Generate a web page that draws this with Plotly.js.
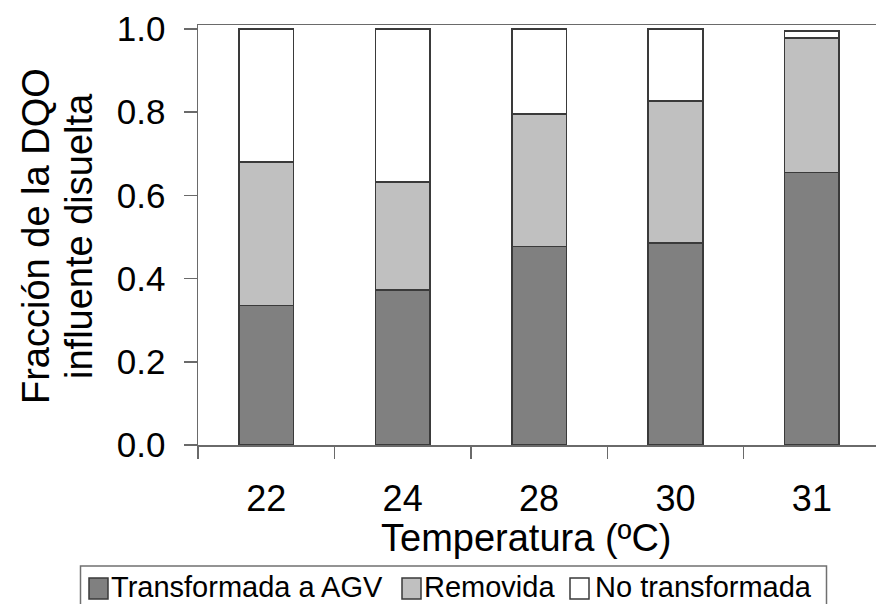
<!DOCTYPE html>
<html>
<head>
<meta charset="utf-8">
<script src="https://cdn.plot.ly/plotly-3.0.1.min.js"></script>
<style>html,body{margin:0;padding:0;background:#fff;}#chart{width:876px;height:604px;}</style>
</head>
<body>
<div id="chart"></div>
<script>
var categories = ["22", "24", "28", "30", "31"];
var transformadaAGV = [0.335, 0.373, 0.477, 0.486, 0.655];
var removida = [0.345, 0.259, 0.319, 0.341, 0.323];
var noTransformada = [0.320, 0.368, 0.204, 0.173, 0.017];
var yTickVals = [0, 0.2, 0.4, 0.6, 0.8, 1.0];
var yTickText = ["0.0", "0.2", "0.4", "0.6", "0.8", "1.0"];
var seriesNames = ["Transformada a AGV", "Removida", "No transformada"];
var seriesColors = ["#808080", "#c0c0c0", "#ffffff"];

var FONT = "Liberation Sans, Arial, Helvetica, sans-serif";
var EDGE = "#3a3a3a";
var edge = {color: EDGE, width: 1.5};

var seriesValues = [transformadaAGV, removida, noTransformada];
var traces = seriesValues.map(function (vals, i) {
  return {type: "bar", name: seriesNames[i], x: categories, y: vals,
          marker: {color: seriesColors[i], line: edge}, width: 0.4};
});

// plot area in pixels: left 198, right 876, top 25, bottom 445
function px(x) { return (x - 198) / 678; }
function py(y) { return (445 - y) / 420; }

// hand-placed legend (box, swatches, labels) to match the reference layout
var legSwatchX = [89, 402, 570];
var legTextX = [110, 423, 594];
var shapes = [
  {type: "rect", xref: "paper", yref: "paper", x0: px(80.5), x1: px(826.5), y0: py(640), y1: py(566),
   line: {color: "#707070", width: 1.5}, fillcolor: "rgba(0,0,0,0)", layer: "above"}
];
var annotations = [
  {text: "Fracción de la DQO", xref: "paper", yref: "paper", x: px(36), y: py(236),
   xanchor: "center", yanchor: "middle", textangle: -90, showarrow: false,
   font: {family: FONT, size: 38, color: "#000"}},
  {text: "influente disuelta", xref: "paper", yref: "paper", x: px(79), y: py(236),
   xanchor: "center", yanchor: "middle", textangle: -90, showarrow: false,
   font: {family: FONT, size: 38, color: "#000"}},
  {text: "Temperatura (ºC)", xref: "paper", yref: "paper", x: px(526), y: py(538),
   xanchor: "center", yanchor: "middle", showarrow: false,
   font: {family: FONT, size: 38, color: "#000"}}
];
seriesNames.forEach(function (name, i) {
  shapes.push({type: "rect", xref: "paper", yref: "paper",
    x0: px(legSwatchX[i]), x1: px(legSwatchX[i] + 19), y0: py(599), y1: py(578),
    line: {color: EDGE, width: 1.5}, fillcolor: seriesColors[i], layer: "above"});
  annotations.push({text: name, xref: "paper", yref: "paper", x: px(legTextX[i]), y: py(587),
    xanchor: "left", yanchor: "middle", showarrow: false, borderpad: 0,
    font: {family: FONT, size: 29, color: "#000"}});
});

var layout = {
  width: 876, height: 604,
  margin: {l: 198, r: 0, t: 25, b: 159, autoexpand: false},
  paper_bgcolor: "#fff", plot_bgcolor: "#fff",
  barmode: "stack",
  font: {family: FONT, color: "#000"},
  showlegend: false,
  xaxis: {
    type: "category", range: [-0.5, 4.47],
    showline: true, linecolor: "#6a6a6a", linewidth: 1.5, mirror: true,
    ticks: "outside", tickson: "boundaries", ticklen: 12, tickcolor: "#6a6a6a", tickwidth: 1.5,
    tickfont: {family: FONT, size: 36, color: "#000"},
    ticklabelstandoff: 21,
    showgrid: false, zeroline: false, fixedrange: true
  },
  yaxis: {
    range: [0, 1.0096],
    tickvals: yTickVals, ticktext: yTickText,
    showline: true, linecolor: "#6a6a6a", linewidth: 1.5,
    ticks: "outside", ticklen: 13, tickcolor: "#6a6a6a", tickwidth: 1.5,
    tickfont: {family: FONT, size: 35, color: "#000"},
    ticklabelstandoff: 11,
    showgrid: false, zeroline: false, fixedrange: true
  },
  shapes: shapes,
  annotations: annotations
};

Plotly.newPlot("chart", traces, layout, {displayModeBar: false, staticPlot: true});
</script>
</body>
</html>
